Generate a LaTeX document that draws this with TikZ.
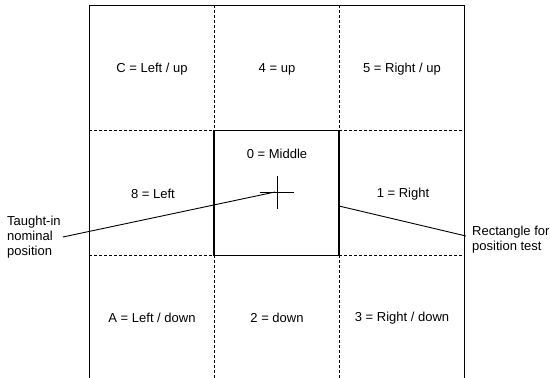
\documentclass[tikz,border=0pt]{standalone}
\usepackage{fontspec}
\setmainfont{Liberation Sans}
\usepackage{tikz}
\usetikzlibrary{positioning,calc}

\begin{document}
\begin{tikzpicture}[
    x=1pt, y=-1pt,
    every node/.style={font=\fontsize{13}{15}\selectfont, inner sep=2pt},
    cell/.style={align=center},
    note/.style={align=left},
    grid/.style={draw, line width=0.8pt},
    split/.style={draw, line width=0.8pt, dash pattern=on 3pt off 2pt},
    testbox/.style={draw, line width=1.8pt, minimum width=125pt, minimum height=125pt, inner sep=0pt},
    line/.style={draw, line width=0.9pt}
]
    \useasboundingbox (0,0) rectangle (550,378);

    % field frame and zone borders
    \draw [grid] (89,378) -- (89,5) -- (464,5) -- (464,378);
    \draw [split] (89,130.5) -- (464,130.5);
    \draw [split] (89,255.5) -- (464,255.5);
    \draw [split] (214,5) -- (214,378);
    \draw [split] (339,5) -- (339,378);
    \node [testbox] (testrect) at (276.5,193) {};

    % zone codes
    \node [cell] (leftup) at (152,69) {C = Left / up};
    \node [cell] (up) at (277,69) {4 = up};
    \node [cell] (rightup) at (402,69) {5 = Right / up};
    \node [cell] (left) at (153,194) {8 = Left};
    \node [cell] (middle) at (277,154) {0 = Middle};
    \node [cell] (right) at (403,194) {1 = Right};
    \node [cell] (leftdown) at (152,318) {A = Left / down};
    \node [cell] (down) at (277,318) {2 = down};
    \node [cell] (rightdown) at (402,318) {3 = Right / down};

    % nominal position cross
    \coordinate (nominal) at (277,192);
    \draw [line] ($(nominal)+(-17,0)$) -- ($(nominal)+(17,0)$);
    \draw [line] ($(nominal)+(0,-16)$) -- ($(nominal)+(0,17)$);

    % callouts
    \node [note, anchor=west] (taught) at (5,237) {Taught-in\\nominal\\position};
    \node [note, anchor=west] (recttext) at (470,240) {Rectangle for\\position test};
    \coordinate (rectpoint) at (339,206);

    \draw [line] (taught.east) -- ($(nominal)+(-2,0)$);
    \draw [line] (rectpoint) -- ($(recttext.west)+(-4,-4)$);
\end{tikzpicture}
\end{document}
